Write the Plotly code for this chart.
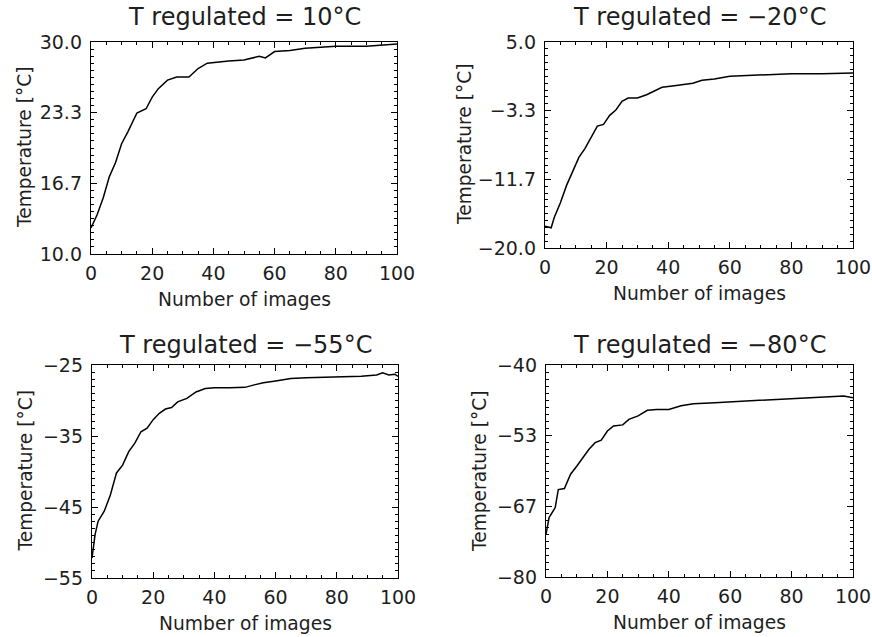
import plotly.graph_objects as go

# ---- data ----
x_10 = [0, 2, 4, 6, 8, 10, 12, 15, 18, 20, 22, 25, 28, 32, 35, 38, 45, 50, 55, 57, 60, 65, 70, 80, 90, 100]
t_10 = [12.45, 13.7, 15.3, 17.3, 18.6, 20.4, 21.5, 23.3, 23.7, 24.8, 25.6, 26.4, 26.7, 26.7, 27.5, 28.0,
        28.2, 28.3, 28.65, 28.5, 29.1, 29.2, 29.4, 29.6, 29.6, 29.8]

x_m20 = [0, 2, 3, 5, 7, 9, 11, 13, 15, 17, 19, 21, 23, 25, 27, 30, 33, 36, 38, 42, 48, 51, 55, 60, 65, 70, 80, 90, 100]
t_m20 = [-17.35, -17.55, -16.3, -14.5, -12.4, -10.8, -9.0, -7.9, -6.5, -5.2, -5.0, -3.9, -3.25, -2.2, -1.8,
         -1.8, -1.4, -0.8, -0.5, -0.3, 0.0, 0.35, 0.5, 0.83, 0.9, 0.96, 1.16, 1.16, 1.24]

x_m55 = [0, 1, 2, 4, 6, 8, 10, 12, 14, 16, 18, 20, 22, 24, 26, 28, 31, 34, 37, 40, 45, 50, 53, 56, 60, 65,
         70, 80, 88, 93, 95, 97, 99, 100]
t_m55 = [-52.2, -48.9, -47.0, -45.6, -43.3, -40.2, -39.1, -37.2, -36.0, -34.4, -33.9, -32.7, -31.8, -31.2,
         -31.0, -30.2, -29.7, -28.8, -28.3, -28.2, -28.2, -28.15, -27.8, -27.5, -27.25, -26.9, -26.8, -26.7,
         -26.6, -26.4, -26.1, -26.4, -26.3, -26.6]

x_m80 = [0, 1, 3, 4, 6, 8, 10, 12, 14, 16, 18, 20, 22, 25, 27, 30, 33, 36, 40, 44, 48, 55, 62, 70, 78, 85,
         92, 97, 100]
t_m80 = [-71.95, -68.8, -66.9, -63.5, -63.3, -60.6, -59.1, -57.5, -55.9, -54.65, -54.2, -52.45, -51.5, -51.3,
         -50.25, -49.6, -48.55, -48.4, -48.4, -47.7, -47.3, -47.1, -46.9, -46.7, -46.5, -46.2, -46.0, -45.85,
         -46.2]

titles = ["T regulated = 10°C", "T regulated = −20°C", "T regulated = −55°C", "T regulated = −80°C"]

yt_10 = [10, 16.667, 23.333, 30]
yl_10 = ["10.0", "16.7", "23.3", "30.0"]
yt_m20 = [-20, -11.667, -3.333, 5]
yl_m20 = ["−20.0", "−11.7", "−3.3", "5.0"]
yt_m55 = [-55, -45, -35, -25]
yl_m55 = ["−55", "−45", "−35", "−25"]
yt_m80 = [-80, -66.667, -53.333, -40]
yl_m80 = ["−80", "−67", "−53", "−40"]

x_ticks = [0, 20, 40, 60, 80, 100]
x_label = "Number of images"
y_label = "Temperature [°C]"

# ---- layout ----
W, H = 872, 637
panels = [
    (x_10, t_10, titles[0], yt_10, yl_10, [10, 30], (91, 397, 42, 254)),
    (x_m20, t_m20, titles[1], yt_m20, yl_m20, [-20, 5], (545, 853, 42, 248)),
    (x_m55, t_m55, titles[2], yt_m55, yl_m55, [-55, -25], (92, 398, 365, 578)),
    (x_m80, t_m80, titles[3], yt_m80, yl_m80, [-80, -40], (546, 853, 365, 577)),
]

FONT = "DejaVu Sans"
TXT = "#1e1e1e"


def fx(px):
    return px / W


def fy(py):
    return 1 - py / H


fig = go.Figure()
annotations = []
for i, (xs, ys, title, tv, tt, yr, box) in enumerate(panels, start=1):
    l, r, t, b = box
    xa = "x" if i == 1 else f"x{i}"
    ya = "y" if i == 1 else f"y{i}"
    fig.add_trace(go.Scatter(x=xs, y=ys, xaxis=xa, yaxis=ya, mode="lines",
                             line=dict(color="black", width=1.5), showlegend=False,
                             hoverinfo="skip"))
    common = dict(showgrid=False, zeroline=False, showline=True, linecolor="black", linewidth=1.4,
                  mirror="allticks", ticks="inside", tickcolor="black", ticklen=6, tickwidth=1.2,
                  automargin=False, ticklabeloverflow="allow",
                  tickfont=dict(family=FONT, size=19, color=TXT))
    fig.layout[("xaxis" if i == 1 else f"xaxis{i}")] = dict(
        domain=[fx(l), fx(r)], anchor=ya, range=[0, 100], tickvals=x_ticks, ticklabelstandoff=2,
        minor=dict(dtick=5, tick0=0, ticklen=3, ticks="inside", tickcolor="black", tickwidth=1),
        **common)
    fig.layout[("yaxis" if i == 1 else f"yaxis{i}")] = dict(
        domain=[fy(b), fy(t)], anchor=xa, range=yr, tickvals=tv, ticktext=tt, ticklabelstandoff=4,
        minor=dict(dtick=(yr[1] - yr[0]) / 30, tick0=yr[0], ticklen=3, ticks="inside",
                   tickcolor="black", tickwidth=1),
        **common)
    cx = fx((l + r) / 2)
    ty = 17 if t < 100 else 345
    annotations.append(dict(text=title, x=cx, y=fy(ty), xref="paper", yref="paper",
                            showarrow=False, xanchor="center", yanchor="middle",
                            font=dict(family=FONT, size=24, color=TXT)))
    annotations.append(dict(text=x_label, x=cx, y=fy(b + 45), xref="paper", yref="paper",
                            showarrow=False, xanchor="center", yanchor="middle",
                            font=dict(family=FONT, size=18.7, color=TXT)))
    yx = {1: 25, 2: 464, 3: 25, 4: 479}[i]
    annotations.append(dict(text=y_label, x=fx(yx), y=fy((t + b) / 2), xref="paper", yref="paper",
                            showarrow=False, xanchor="center", yanchor="middle", textangle=-90,
                            font=dict(family=FONT, size=18.6, color=TXT)))

fig.update_layout(width=W, height=H, margin=dict(l=0, r=0, t=0, b=0, autoexpand=False),
                  paper_bgcolor="white", plot_bgcolor="white", annotations=annotations)

fig.write_html("out.html", config={"displayModeBar": False},
               post_script="document.body.style.margin='0';")
